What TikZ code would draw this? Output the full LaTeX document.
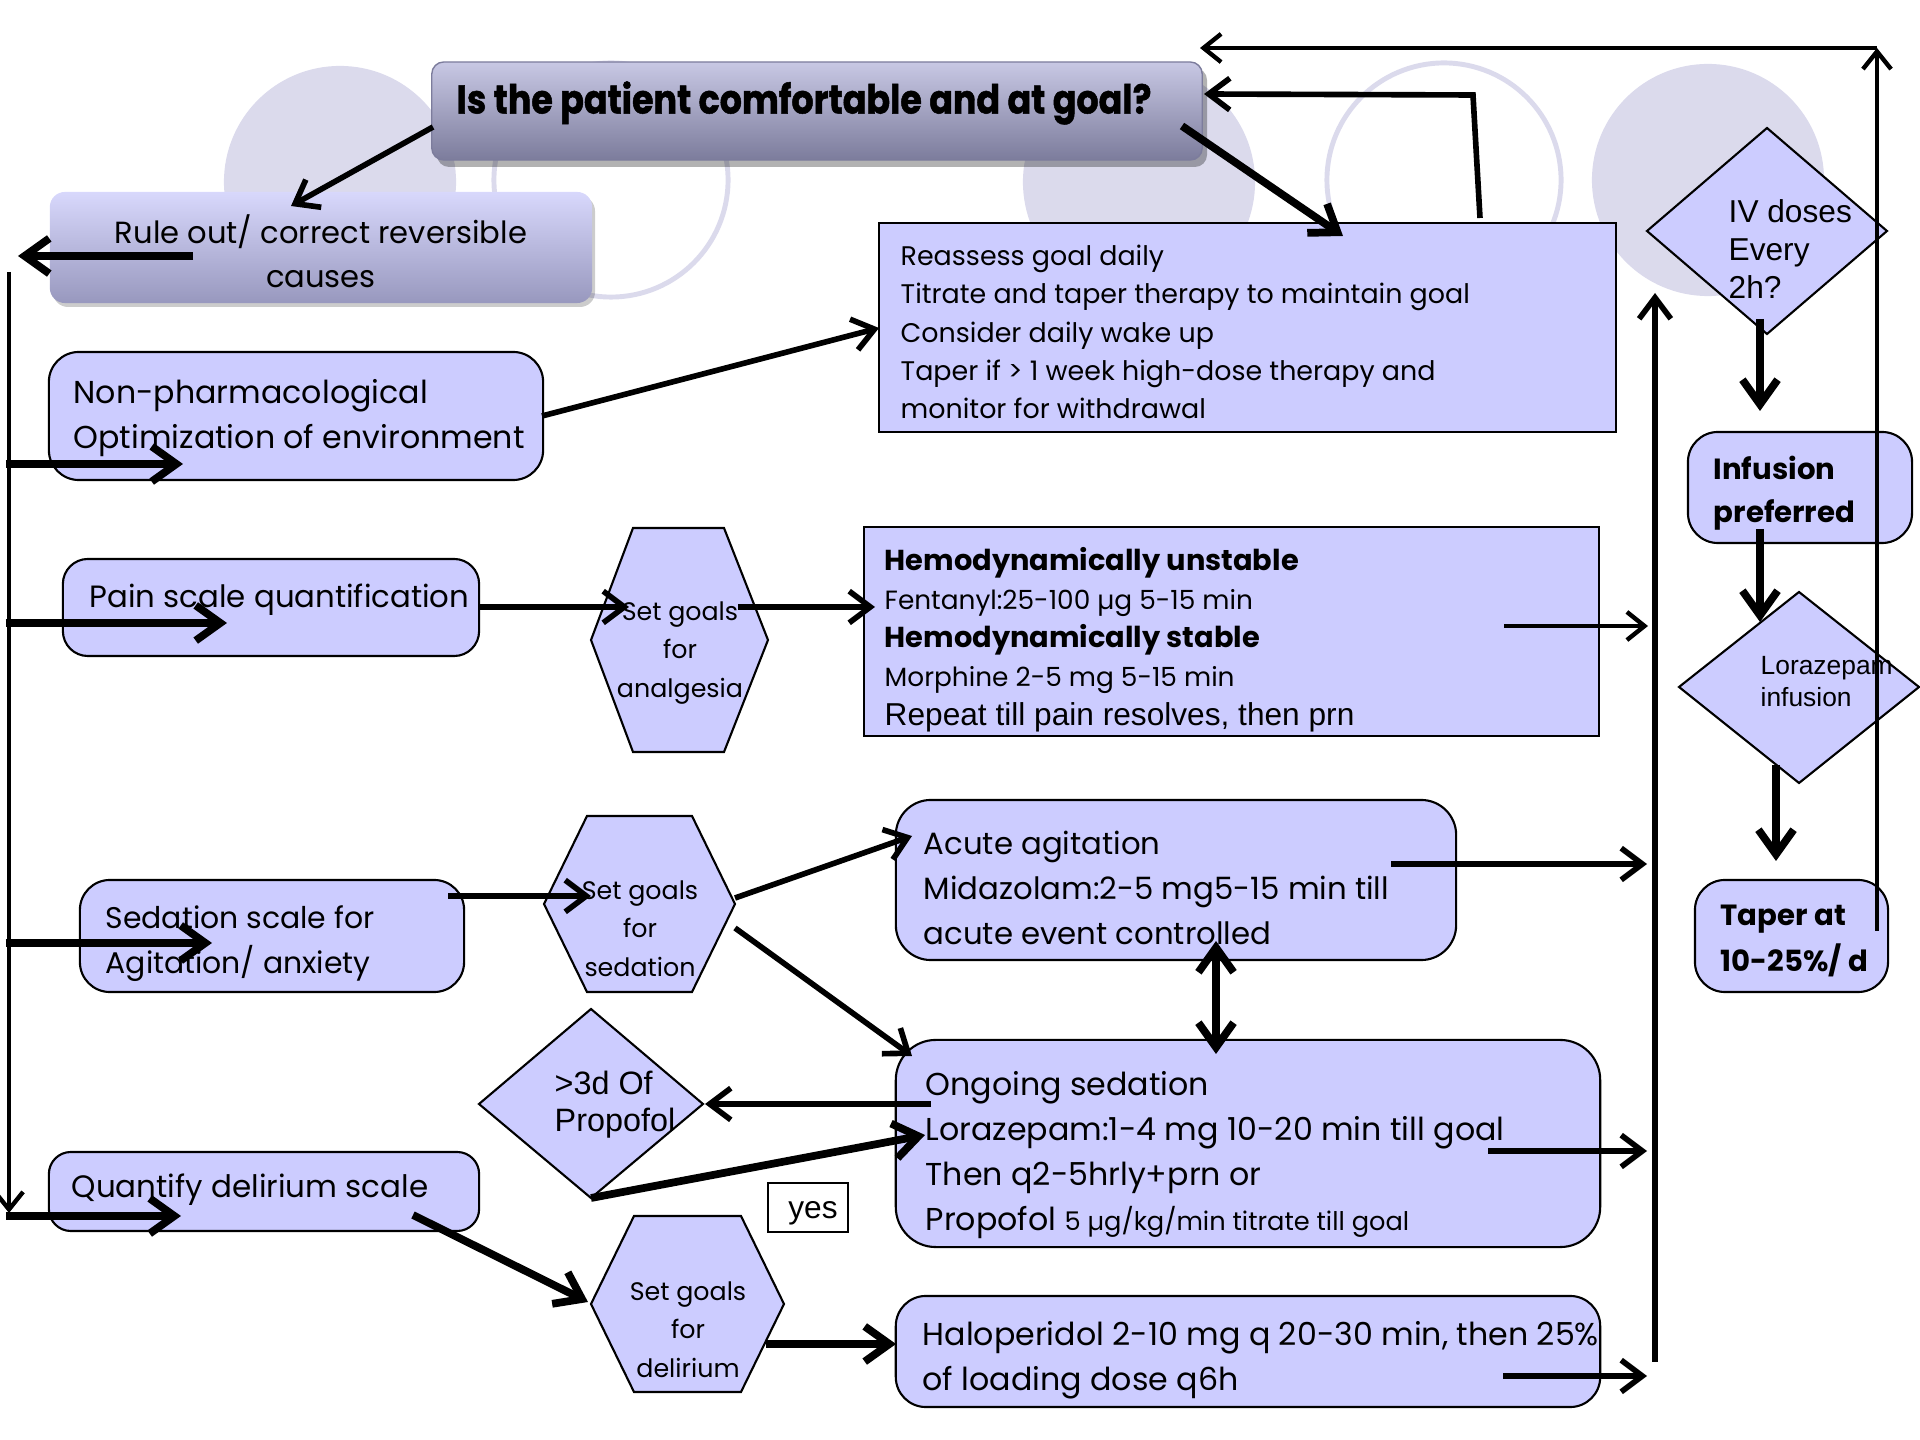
\documentclass[tikz,border=0pt]{standalone}
\usepackage{fontspec}
\usetikzlibrary{arrows.meta}
\newfontfamily\gfont{Poppins}
\newfontfamily\afont{Liberation Sans}
\newfontfamily\hfont[FakeStretch=0.87,BoldFeatures={FakeBold=1.2}]{Poppins}
\newcommand{\fsz}[2]{\fontsize{#1}{#2}\selectfont}
\definecolor{lav}{HTML}{CCCCFF}
\definecolor{circ}{HTML}{DBDAEC}
\definecolor{ttop}{HTML}{C8C8E4}
\definecolor{tbot}{HTML}{7C7C9C}
\definecolor{rtop}{HTML}{D8D8FC}
\definecolor{rbot}{HTML}{9898BE}
\begin{document}
\begin{tikzpicture}[x=0.01cm,y=-0.01cm,
  box/.style={draw=black,line width=0.6pt,fill=lav,rounded corners=0.3cm,inner sep=0pt},
  sqbox/.style={draw=black,line width=0.6pt,fill=lav,inner sep=0pt},
  shp/.style={draw=black,line width=0.6pt,fill=lav},
  txt/.style={anchor=west,align=left,inner sep=0pt},
  ctxt/.style={align=center,inner sep=0pt},
  aS/.style={line width=1.25pt,-{Straight Barb[length=5pt,width=8pt]}},
  aM/.style={line width=1.6pt,-{Straight Barb[length=6pt,width=9pt]}},
  aL/.style={line width=2.2pt,-{Straight Barb[length=7pt,width=10pt]}},
  aLL/.style={line width=2.2pt,{Straight Barb[length=7pt,width=10pt]}-{Straight Barb[length=7pt,width=10pt]}}
]
\useasboundingbox (0,0) rectangle (1920,1440);

% background circles
\fill[circ] (340,182) circle[radius=1.16cm];
\draw[circ,line width=1.4pt] (611,180) circle[radius=1.17cm];
\fill[circ] (1139,182) circle[radius=1.16cm];
\draw[circ,line width=1.4pt] (1444,180) circle[radius=1.17cm];
\fill[circ] (1708,180) circle[radius=1.16cm];

% title
\fill[black,opacity=0.3,rounded corners=0.12cm] (437,68) rectangle (1207,167);
\node[rounded corners=0.12cm,top color=ttop,bottom color=tbot,draw=tbot,line width=0.4pt,
      minimum width=7.70cm,minimum height=0.98cm,inner sep=0pt] (title) at (817,111) {};
\node[font=\hfont\bfseries\fsz{11.4}{12},inner sep=0pt] (titlet) at (804,103) {Is the patient comfortable and at goal?};

% rule out
\fill[black,opacity=0.2,rounded corners=0.15cm] (53,196) rectangle (595,307);
\node[rounded corners=0.15cm,top color=rtop,bottom color=rbot,
      minimum width=5.42cm,minimum height=1.11cm,inner sep=0pt] (ruleout) at (321,247.5) {};
\node[ctxt,font=\gfont\fsz{8.7}{12.5}] (ruleoutt) at (321,251) {Rule out/ correct reversible\\causes};

% left column boxes
\node[box,minimum width=4.94cm,minimum height=1.28cm] (nonpharm) at (296,416) {};
\node[txt,font=\gfont\fsz{9.0}{12.8}] (nonpharmt) at (73,418) {Non-pharmacological\\Optimization of environment};

\node[box,rounded corners=0.25cm,minimum width=4.16cm,minimum height=0.97cm] (pain) at (271,607.5) {};
\node[txt,font=\gfont\fsz{8.75}{12}] (paint) at (89,600) {Pain scale quantification};

\node[box,minimum width=3.84cm,minimum height=1.12cm] (sed) at (272,936) {};
\node[txt,font=\gfont\fsz{8.5}{12.8}] (sedt) at (105,944) {Sedation scale for\\Agitation/ anxiety};

\node[box,rounded corners=0.22cm,minimum width=4.30cm,minimum height=0.79cm] (del) at (264,1191.5) {};
\node[txt,font=\gfont\fsz{8.8}{12}] (delt) at (71,1190) {Quantify delirium scale};

% hexagons
\draw[shp] (633,528) -- (724,528) -- (768,640) -- (724,752) -- (633,752) -- (591,640) -- cycle;
\node[ctxt,font=\gfont\fsz{7.2}{11}] (hexa) at (680,653) {Set goals\\for\\analgesia};
\draw[shp] (587,816) -- (692,816) -- (735,904) -- (692,992) -- (587,992) -- (544,904) -- cycle;
\node[ctxt,font=\gfont\fsz{7.2}{11}] (hexs) at (640,928.5) {Set goals\\for\\sedation};
\draw[shp] (634,1216) -- (741,1216) -- (784,1304) -- (741,1392) -- (634,1392) -- (591,1304) -- cycle;
\node[ctxt,font=\gfont\fsz{7.2}{11}] (hexd) at (688,1329.5) {Set goals\\for\\delirium};

% diamond >3d of propofol
\draw[shp] (479,1104) -- (591,1009) -- (703,1104) -- (591,1198) -- cycle;
\node[txt,font=\afont\fsz{9.2}{10.5}] (propd) at (554,1104.5) {>3d Of\\Propofol};

% yes
\node[draw=black,line width=0.6pt,fill=white,minimum width=0.80cm,minimum height=0.49cm,inner sep=0pt] (yes) at (808,1207.5) {};
\node[font=\afont\fsz{9}{10},inner sep=0pt] (yest) at (813,1213) {yes};

% right text boxes
\node[sqbox,minimum width=7.37cm,minimum height=2.09cm] (reassess) at (1247.5,327.5) {};
\node[txt,font=\gfont\fsz{7.65}{10.9}] (reassesst) at (900,332) {Reassess goal daily\\Titrate and taper therapy to maintain goal\\Consider daily wake up\\Taper if > 1 week high-dose therapy and\\monitor for withdrawal};

\node[sqbox,minimum width=7.35cm,minimum height=2.09cm] (analg) at (1231.5,631.5) {};
\node[txt,font=\gfont\fsz{7.5}{11}] (analgt) at (884,639.5) {{\bfseries\fsz{8.2}{11}Hemodynamically unstable}\\Fentanyl:25-100 µg 5-15 min\\{\bfseries\fsz{8.2}{11}Hemodynamically stable}\\Morphine 2-5 mg 5-15 min\\{\afont\fsz{9}{11}Repeat till pain resolves, then prn}};

\node[box,rounded corners=0.35cm,minimum width=5.60cm,minimum height=1.60cm] (acute) at (1176,880) {};
\node[txt,font=\gfont\fsz{8.75}{12.8}] (acutet) at (923,888) {Acute agitation\\Midazolam:2-5 mg5-15 min till\\acute event controlled};

\node[box,rounded corners=0.4cm,minimum width=7.04cm,minimum height=2.07cm] (ongo) at (1248,1143.5) {};
\node[txt,font=\gfont\fsz{9.0}{12.8}] (ongot) at (925,1155) {Ongoing sedation\\Lorazepam:1-4 mg 10-20 min till goal\\Then q2-5hrly+prn or\\Propofol {\fsz{7.3}{12.8}5 µg/kg/min titrate till goal}};

\node[box,rounded corners=0.3cm,minimum width=7.04cm,minimum height=1.11cm] (halo) at (1248,1351.5) {};
\node[txt,font=\gfont\fsz{9.0}{12.8}] (halot) at (922,1360) {Haloperidol 2-10 mg q 20-30 min, then 25\%\\of loading dose q6h};

% far right column
\draw[shp] (1647,231) -- (1767,128) -- (1887,231) -- (1767,334) -- cycle;
\node[txt,font=\afont\fsz{9}{10.8}] (ivd) at (1728,249) {IV doses\\Every\\2h?};

\node[box,minimum width=2.24cm,minimum height=1.11cm] (inf) at (1800,487.5) {};
\node[txt,font=\gfont\bfseries\fsz{8.3}{12.2}] (inft) at (1713,493.5) {Infusion\\preferred};

\draw[shp] (1679,687) -- (1799,592) -- (1919,687) -- (1799,783) -- cycle;
\node[txt,font=\afont\fsz{7.5}{9.1}] (lorad) at (1760,682) {Lorazepam\\infusion};

\node[box,minimum width=1.93cm,minimum height=1.12cm] (taper) at (1791.5,936) {};
\node[txt,font=\gfont\bfseries\fsz{8.3}{13}] (tapert) at (1720,941) {Taper at\\10-25\%/ d};

% connector end points
\coordinate (t1) at (433,127);   \coordinate (r1) at (291,206);
\coordinate (t2) at (1182,126);  \coordinate (q1) at (1343,236);
\coordinate (q2) at (1480,218);  \coordinate (q3) at (1473,95);  \coordinate (t3) at (1204,94);
\coordinate (tp1) at (1877,931); \coordinate (k1) at (1877,48);  \coordinate (t4) at (1200,48);
\coordinate (r2) at (193,256);   \coordinate (l0) at (18,256);
\coordinate (l1) at (9,272);     \coordinate (l2) at (9,1213);
\coordinate (b1) at (6,464);     \coordinate (n1) at (183,464);
\coordinate (b2) at (6,623);     \coordinate (p1) at (227,623);
\coordinate (b3) at (6,943);     \coordinate (s1) at (212,943);
\coordinate (b4) at (6,1216);    \coordinate (d1) at (181,1216);
\coordinate (n2) at (542,416);   \coordinate (q4) at (879,328);
\coordinate (p2) at (479,607);   \coordinate (h1) at (629,607);
\coordinate (h2) at (738,607);   \coordinate (a1) at (875,607);
\coordinate (a2) at (1504,626);  \coordinate (v1) at (1648,626);
\coordinate (v0) at (1655,1362); \coordinate (v9) at (1655,293);
\coordinate (c1) at (1391,864);  \coordinate (v2) at (1647,864);
\coordinate (o1) at (1488,1151); \coordinate (v3) at (1647,1151);
\coordinate (g1) at (1503,1376); \coordinate (v4) at (1647,1376);
\coordinate (c2) at (1216,941);  \coordinate (o2) at (1216,1054);
\coordinate (s2) at (448,896);   \coordinate (h3) at (591,896);
\coordinate (h4) at (735,898);   \coordinate (c3) at (912,836);
\coordinate (h5) at (735,928);   \coordinate (o3) at (912,1056);
\coordinate (o4) at (931,1104);  \coordinate (x1) at (705,1104);
\coordinate (x2) at (591,1198);  \coordinate (o5) at (925,1135);
\coordinate (d2) at (413,1215);  \coordinate (h6) at (588,1302);
\coordinate (h7) at (766,1344);  \coordinate (g2) at (896,1344);
\coordinate (i1) at (1760,319);  \coordinate (f1) at (1760,411);
\coordinate (f2) at (1760,529);  \coordinate (z1) at (1760,622);
\coordinate (z2) at (1776,765);  \coordinate (tp2) at (1776,861);

% connectors
\draw[aM] (t1) -- (r1);
\draw[aL] (t2) -- (q1);
\draw[aM] (q2) -- (q3) -- (t3);
\draw[aS] (tp1) -- (k1);
\draw[aS] (k1) -- (t4);
\draw[aL] (r2) -- (l0);
\draw[aS] (l1) -- (l2);
\draw[aL] (b1) -- (n1);
\draw[aL] (b2) -- (p1);
\draw[aL] (b3) -- (s1);
\draw[aL] (b4) -- (d1);
\draw[aM] (n2) -- (q4);
\draw[aM] (p2) -- (h1);
\draw[aM] (h2) -- (a1);
\draw[aS] (a2) -- (v1);
\draw[aM] (v0) -- (v9);
\draw[aM] (c1) -- (v2);
\draw[aM] (o1) -- (v3);
\draw[aM] (g1) -- (v4);
\draw[aLL] (c2) -- (o2);
\draw[aM] (s2) -- (h3);
\draw[aM] (h4) -- (c3);
\draw[aM] (h5) -- (o3);
\draw[aM] (o4) -- (x1);
\draw[aL] (x2) -- (o5);
\draw[aL] (d2) -- (h6);
\draw[aL] (h7) -- (g2);
\draw[aL] (i1) -- (f1);
\draw[aL] (f2) -- (z1);
\draw[aL] (z2) -- (tp2);
\end{tikzpicture}
\end{document}
